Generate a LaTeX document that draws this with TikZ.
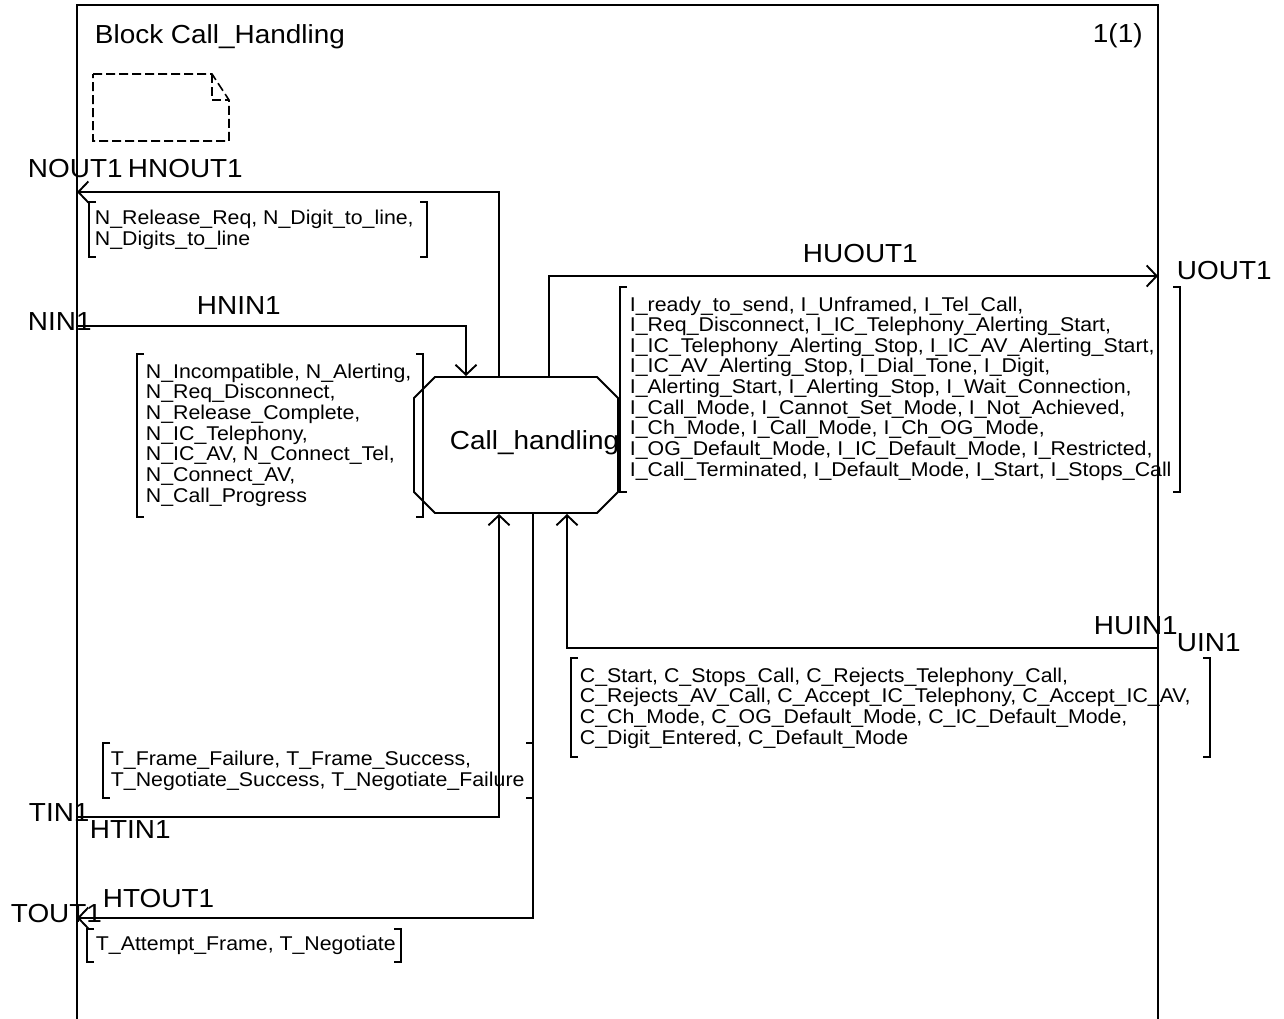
\documentclass[tikz,border=0pt]{standalone}
\usepackage{fontspec}
\setmainfont[FakeStretch=1.07]{Liberation Sans}
\usetikzlibrary{arrows.meta}
\begin{document}
\begin{tikzpicture}[x=1bp,y=-1bp,line width=1.9bp,
  lab/.style={font=\fontsize{26.2}{28}\selectfont,inner sep=0pt,anchor=base west},
  sig/.style={font=\fontsize{20}{20.7}\selectfont,inner sep=0pt,anchor=base west,align=left},
  arr/.style={-{Straight Barb[length=10bp,width=21bp,line width=1.9bp]}},
  note/.style={dash pattern=on 9bp off 4bp,line width=1.6bp}]
\useasboundingbox (0,0) rectangle (1284,1019);
% frame
\draw (77,1019) |- (1158,5) -- (1158,1019);
\node[lab] (title) at (94,43) {Block Call\_Handling};
\node[lab] (page) at (1092,42) {1(1)};
% comment symbol
\draw[note] (93,74) -- (212,74) -- (229,100) -- (229,141) -- (93,141) -- cycle;
\draw[note] (212,74) -- (212,100) -- (229,100);
% block
\node[minimum width=204bp,minimum height=136bp,inner sep=0pt] (ch) at (516,445) {};
\draw (435,377) -- (597,377) -- (618,398) -- (618,492) -- (597,513) -- (435,513) -- (414,492) -- (414,398) -- cycle;
\node[lab] (chl) at (449,449) {Call\_handling};
% gates on frame
\coordinate (NOUT1) at (77,192);
\coordinate (NIN1) at (77,326);
\coordinate (UOUT1) at (1158,276);
\coordinate (UIN1) at (1158,648);
\coordinate (TIN1) at (77,817);
\coordinate (TOUT1) at (77,918);
% channels
\draw[arr] ([xshift=-17bp]ch.north) |- (NOUT1);
\draw[arr] (NIN1) -| ([xshift=-50bp]ch.north);
\draw[arr] ([xshift=33bp]ch.north) |- (UOUT1);
\draw[arr] (UIN1) -| ([xshift=51bp]ch.south);
\draw[arr] (TIN1) -| ([xshift=-17bp]ch.south);
\draw[arr] ([xshift=17bp]ch.south) |- (TOUT1);
% labels
\node[lab] (lNOUT1) at (27,177) {NOUT1};
\node[lab] (lHNOUT1) at (127,177) {HNOUT1};
\node[lab] (lNIN1) at (27,330) {NIN1};
\node[lab] (lHNIN1) at (196,314) {HNIN1};
\node[lab] (lUOUT1) at (1176,279) {UOUT1};
\node[lab] (lHUOUT1) at (802,262) {HUOUT1};
\node[lab] (lHUIN1) at (1093,634) {HUIN1};
\node[lab] (lUIN1) at (1176,651) {UIN1};
\node[lab] (lTIN1) at (28,821) {TIN1};
\node[lab] (lHTIN1) at (89,838) {HTIN1};
\node[lab] (lTOUT1) at (10,922) {TOUT1};
\node[lab] (lHTOUT1) at (102,907) {HTOUT1};
% signal lists (base anchor = last line)
\node[sig] (sNOUT) at (94,245) {N\_Release\_Req, N\_Digit\_to\_line,\\N\_Digits\_to\_line};
\draw (96,202) -| (89,257) -- ++(7,0);
\draw (420,202) -| (427,257) -- ++(-7,0);
\node[sig] (sNIN) at (145,502) {N\_Incompatible, N\_Alerting,\\N\_Req\_Disconnect,\\N\_Release\_Complete,\\N\_IC\_Telephony,\\N\_IC\_AV, N\_Connect\_Tel,\\N\_Connect\_AV,\\N\_Call\_Progress};
\draw (144,354) -| (137,517) -- ++(7,0);
\draw (416,354) -| (423,517) -- ++(-7,0);
\node[sig] (sUOUT) at (629,476) {I\_ready\_to\_send, I\_Unframed, I\_Tel\_Call,\\I\_Req\_Disconnect, I\_IC\_Telephony\_Alerting\_Start,\\I\_IC\_Telephony\_Alerting\_Stop, I\_IC\_AV\_Alerting\_Start,\\I\_IC\_AV\_Alerting\_Stop, I\_Dial\_Tone, I\_Digit,\\I\_Alerting\_Start, I\_Alerting\_Stop, I\_Wait\_Connection,\\I\_Call\_Mode, I\_Cannot\_Set\_Mode, I\_Not\_Achieved,\\I\_Ch\_Mode, I\_Call\_Mode, I\_Ch\_OG\_Mode,\\I\_OG\_Default\_Mode, I\_IC\_Default\_Mode, I\_Restricted,\\I\_Call\_Terminated, I\_Default\_Mode, I\_Start, I\_Stops\_Call};
\draw (627,287) -| (620,492) -- ++(7,0);
\draw (1173,287) -| (1180,492) -- ++(-7,0);
\node[sig] (sUIN) at (579,744) {C\_Start, C\_Stops\_Call, C\_Rejects\_Telephony\_Call,\\C\_Rejects\_AV\_Call, C\_Accept\_IC\_Telephony, C\_Accept\_IC\_AV,\\C\_Ch\_Mode, C\_OG\_Default\_Mode, C\_IC\_Default\_Mode,\\C\_Digit\_Entered, C\_Default\_Mode};
\draw (578,658) -| (571,757) -- ++(7,0);
\draw (1203,658) -| (1210,757) -- ++(-7,0);
\node[sig] (sTIN) at (110,786) {T\_Frame\_Failure, T\_Frame\_Success,\\T\_Negotiate\_Success, T\_Negotiate\_Failure};
\draw (110,743) -| (103,798) -- ++(7,0);
\draw (526,743) -| (533,798) -- ++(-7,0);
\node[sig] (sTOUT) at (95,950) {T\_Attempt\_Frame, T\_Negotiate};
\draw (94,929) -| (87,962) -- ++(7,0);
\draw (394,929) -| (401,962) -- ++(-7,0);
\end{tikzpicture}
\end{document}
